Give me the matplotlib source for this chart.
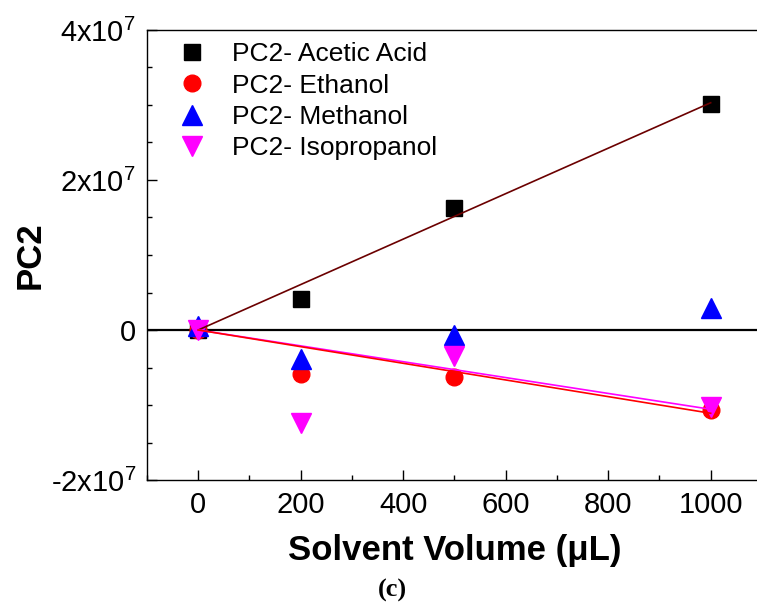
import numpy as np
import matplotlib
matplotlib.use("Agg")
import matplotlib.pyplot as plt
from matplotlib.ticker import MultipleLocator, FixedLocator, FixedFormatter

plt.rcParams['font.family'] = ['Liberation Sans', 'DejaVu Sans']
plt.rcParams['mathtext.fontset'] = 'custom'
plt.rcParams['mathtext.rm'] = 'Liberation Sans'

# Data
volume = [0, 200, 500, 1000]  # solvent volume (uL)
acetic = [0.0, 4.1e6, 1.63e7, 3.01e7]
ethanol = [0.0, -5.8e6, -6.3e6, -1.07e7]
methanol = [0.5e6, -3.9e6, -0.7e6, 2.9e6]
isopropanol = [0.0, -1.24e7, -3.4e6, -1.03e7]

# slopes of the linear fits (through origin)
fit_x = [0, 1000]
acetic_slope = 3.03e4
ethanol_slope = -1.11e4
isopropanol_slope = -1.057e4

y_ticks = [-2e7, 0, 2e7, 4e7]
y_labels = [r'-$\mathregular{2x10^7}$', '0', r'$\mathregular{2x10^7}$', r'$\mathregular{4x10^7}$']

fig = plt.figure(figsize=(7.57, 6.07), dpi=100)
ax = fig.add_axes([0.1942, 0.2092, 0.8123, 0.7414])

ax.plot(volume, acetic, 's', color='black', markersize=12, label='PC2- Acetic Acid', zorder=3)
ax.plot(volume, ethanol, 'o', color='red', markersize=12, label='PC2- Ethanol', zorder=3)
ax.plot(volume, methanol, '^', color='blue', markersize=14.5, label='PC2- Methanol', zorder=3)
ax.plot(volume, isopropanol, 'v', color='magenta', markersize=14.5, label='PC2- Isopropanol', zorder=3)

fx = np.array(fit_x)
ax.plot(fx, acetic_slope * fx, color='#6b0000', lw=1.2, zorder=4)
ax.plot(fx, isopropanol_slope * fx, color='magenta', lw=1.2, zorder=4)
ax.plot(fx, ethanol_slope * fx, color='red', lw=1.2, zorder=4)

ax.axhline(0, color='black', lw=1.6, zorder=2)

ax.set_xlim(-100, 1100)
ax.set_ylim(-2e7, 4e7)
ax.xaxis.set_major_locator(MultipleLocator(200))
ax.xaxis.set_minor_locator(MultipleLocator(100))
ax.yaxis.set_major_locator(FixedLocator(y_ticks))
ax.yaxis.set_major_formatter(FixedFormatter(y_labels))
ax.yaxis.set_minor_locator(MultipleLocator(5e6))

ax.spines['right'].set_visible(False)
for s in ['left', 'top', 'bottom']:
    ax.spines[s].set_linewidth(1.0)
ax.tick_params(which='both', direction='in', top=False, right=False, labelsize=21, width=1.0)
ax.tick_params(which='major', length=7, pad=8)
ax.tick_params(which='minor', length=3.5)

ax.set_xlabel('Solvent Volume (\u03bcL)', fontsize=25, fontweight='bold', labelpad=11)
ax.set_ylabel('PC2', fontsize=25, fontweight='bold', labelpad=3)

ax.legend(loc='upper left', bbox_to_anchor=(0.005, 1.008), frameon=False, fontsize=19,
          handletextpad=0.5, labelspacing=0.28, borderaxespad=0.2)

fig.text(0.519, 0.028, '(c)', ha='center', va='center', fontsize=19, fontweight='bold',
         family='Liberation Serif')

fig.savefig('out.png', dpi=100)
